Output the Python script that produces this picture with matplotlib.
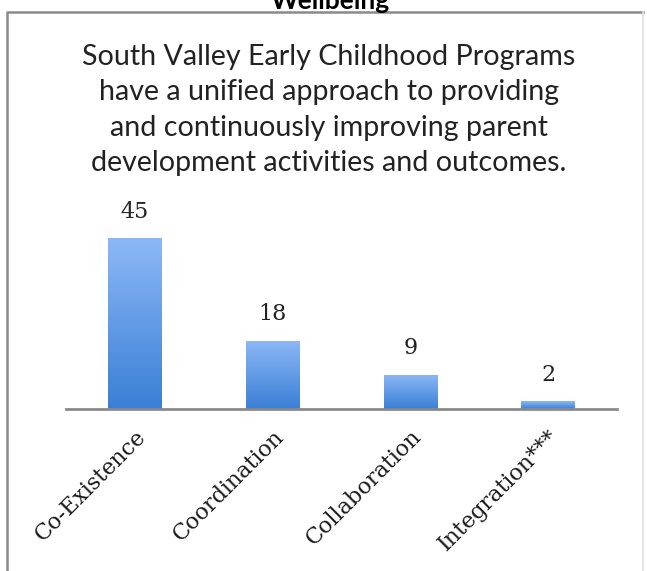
import numpy as np
import matplotlib
matplotlib.use('Agg')
import matplotlib.pyplot as plt
from matplotlib.colors import LinearSegmentedColormap
from matplotlib.lines import Line2D

# survey counts per integration level
categories = ['Co-Existence', 'Coordination', 'Collaboration', 'Integration***']
counts = [45, 18, 9, 2]

heading = 'Wellbeing'
title = ('South Valley Early Childhood Programs\n'
         'have a unified approach to providing\n'
         'and continuously improving parent\n'
         'development activities and outcomes.')

W, H = 647, 571
fig = plt.figure(figsize=(W / 100, H / 100), dpi=100)
fig.patch.set_facecolor('white')

# outer frame (runs off the bottom of the page)
fig.add_artist(Line2D([7 / W, 7 / W, 643 / W], [-0.05, 1 - 12 / H, 1 - 12 / H],
                      transform=fig.transFigure, color='#8a8a8a', lw=1.8))
fig.add_artist(Line2D([643 / W, 643 / W], [-0.05, 1 - 12 / H],
                      transform=fig.transFigure, color='#e2e2e2', lw=1.2))

fig.text(330 / W, 1 - 9 / H, heading, ha='center', va='baseline',
         fontsize=19, fontweight='bold', family='Lato', color='black')

fig.text(329 / W, 1 - 110 / H, title, ha='center', va='center',
         fontsize=20.6, family='Lato', color='#222222', linespacing=1.45)

ax = fig.add_axes([66 / W, (H - 409) / H, 551 / W, 190 / H])
x = np.arange(len(categories))
bw = 0.39

grad = LinearSegmentedColormap.from_list('barblue', ['#3a7fd6', '#8db8f6'])
g = np.linspace(0, 1, 256).reshape(-1, 1)

bars = ax.bar(x, counts, width=bw, color='none', edgecolor='none')
for b in bars:
    x0, w, h = b.get_x(), b.get_width(), b.get_height()
    im = ax.imshow(g, cmap=grad, origin='lower', aspect='auto',
                   extent=[x0, x0 + w, 0, h], interpolation='bicubic', zorder=2)
    im.set_clip_path(b)

for xi, v in zip(x, counts):
    ax.annotate(str(v), (xi, v), xytext=(0, 19), textcoords='offset points',
                ha='center', va='center', fontsize=16, family='DejaVu Serif',
                color='#222222')

ax.set_xlim(-0.5, len(categories) - 0.5)
ax.set_ylim(0, 50)
ax.set_xticks(x)
ax.set_xticklabels(categories, rotation=45, ha='right', va='top',
                   rotation_mode='anchor', fontsize=16, family='DejaVu Serif',
                   color='#1a1a1a')
ax.tick_params(axis='x', length=0, pad=12)
ax.set_yticks([])
for s in ['top', 'left', 'right']:
    ax.spines[s].set_visible(False)
ax.spines['bottom'].set_color('#8a8a8a')
ax.spines['bottom'].set_linewidth(2)
ax.set_facecolor('none')

fig.savefig('out.png', dpi=100)
